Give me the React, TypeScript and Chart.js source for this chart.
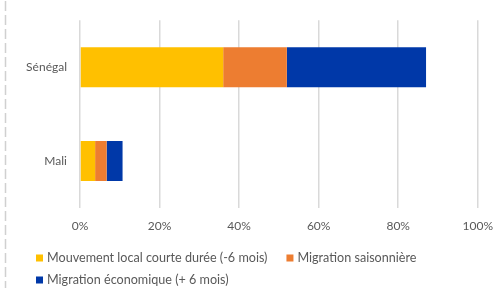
import React, { useEffect, useRef } from "react";
import { Chart, registerables } from "chart.js";

Chart.register(...registerables);

const categories = ["Sénégal", "Mali"];
const seriesLabels = [
  "Mouvement local courte durée (-6 mois)",
  "Migration saisonnière",
  "Migration économique (+ 6 mois)",
];
const localShort = [36, 3.8];
const seasonal = [16, 2.9];
const economic = [35, 4.0];
const seriesColors = ["#FFC000", "#ED7D31", "#0038A8"];
const xTicks = [0, 20, 40, 60, 80, 100];

const FONT = "Lato, 'Liberation Sans', sans-serif";
const TEXT = "#595959";

const customLegend = {
  id: "customLegend",
  afterDraw(chart: any) {
    const ctx = chart.ctx;
    ctx.save();
    ctx.font = `12.6px ${FONT}`;
    ctx.textBaseline = "middle";
    ctx.textAlign = "left";
    const startX = 36;
    const rows = [258, 280];
    const maxX = 480;
    let x = startX;
    let row = 0;
    chart.data.datasets.forEach((ds: any, i: number) => {
      const w = ctx.measureText(ds.label).width;
      const itemW = 11 + w;
      if (i > 0 && x + itemW > maxX) {
        row += 1;
        x = startX;
      }
      const y = rows[row];
      ctx.fillStyle = ds.backgroundColor;
      ctx.fillRect(x, y - 3.5, 7, 7);
      ctx.fillStyle = TEXT;
      ctx.fillText(ds.label, x + 11, y);
      x += itemW + 19;
    });
    // dashed left border
    ctx.strokeStyle = "#D0D0D0";
    ctx.lineWidth = 1.5;
    ctx.setLineDash([10, 4]);
    ctx.beginPath();
    ctx.moveTo(5.5, 1);
    ctx.lineTo(5.5, 288);
    ctx.stroke();
    ctx.restore();
  },
};

export default function App() {
  const ref = useRef<HTMLCanvasElement | null>(null);
  useEffect(() => {
    document.body.style.margin = "0";
    const chart = new Chart(ref.current as HTMLCanvasElement, {
      type: "bar",
      data: {
        labels: categories,
        datasets: [localShort, seasonal, economic].map((d, i) => ({
          label: seriesLabels[i],
          data: d,
          backgroundColor: seriesColors[i],
          borderWidth: 0,
          barPercentage: 0.426,
          categoryPercentage: 1,
        })),
      },
      options: {
        indexAxis: "y",
        animation: false,
        responsive: false,
        maintainAspectRatio: false,
        layout: { padding: { top: 11, right: 24, left: 0, bottom: 0 } },
        plugins: {
          legend: { display: false },
          tooltip: { enabled: false },
        },
        scales: {
          x: {
            stacked: true,
            min: 0,
            max: 100,
            afterBuildTicks: (scale: any) => {
              scale.ticks = xTicks.map((v) => ({ value: v }));
            },
            afterFit: (scale: any) => {
              scale.height = 80;
            },
            grid: { color: "#D9D9D9", lineWidth: 1.5, drawTicks: false },
            border: { display: false },
            ticks: {
              padding: 11,
              color: TEXT,
              font: { family: FONT, size: 12 },
              callback: (v: any) => `${v}%`,
            },
          },
          y: {
            stacked: true,
            afterFit: (scale: any) => {
              scale.width = 80;
            },
            grid: { display: false, drawTicks: false },
            border: { display: false },
            ticks: {
              padding: 13,
              color: TEXT,
              font: { family: FONT, size: 12 },
            },
          },
        },
      },
      plugins: [customLegend],
    });
    return () => chart.destroy();
  }, []);
  return (
    <div style={{ position: "fixed", left: 0, top: 0, width: 504, height: 288, background: "#fff" }}>
      <canvas ref={ref} width={504} height={288} style={{ width: 504, height: 288 }} />
    </div>
  );
}
